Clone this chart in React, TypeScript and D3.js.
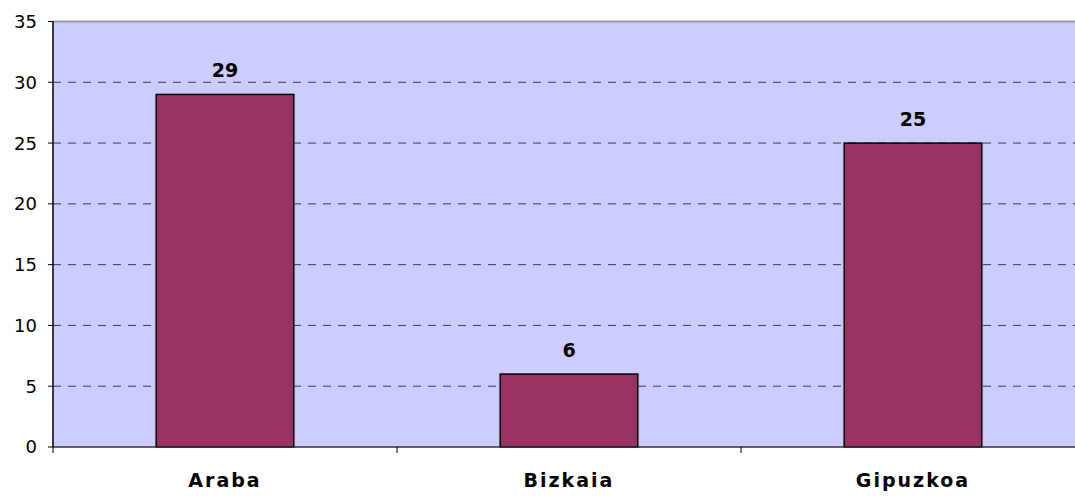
import { scaleBand, scaleLinear, range } from "d3";

const categories = ["Araba", "Bizkaia", "Gipuzkoa"];
const values = [29, 6, 25];
const yTicks = [0, 5, 10, 15, 20, 25, 30, 35];

const width = 1075;
const height = 496;
const margin = { top: 21.5, left: 53, bottom: 49 };
const plotRight = 1085;
const font = "'DejaVu Sans', Verdana, sans-serif";

const App = () => {
  const xScale = scaleBand()
    .domain(categories)
    .range([margin.left, plotRight])
    .paddingInner(0.6)
    .paddingOuter(0.3);
  // category ticks sit at the band edges
  const step = xScale.step();
  const start = margin.left;

  const yScale = scaleLinear().domain([0, 35]).range([height - margin.bottom, margin.top]);
  const y0 = yScale(0);

  return (
    <div style={{ position: "absolute", left: 0, top: 0 }}>
      <svg width={width} height={height} style={{ display: "block" }}>
        <rect x={margin.left} y={yScale(35)} width={plotRight - margin.left} height={y0 - yScale(35)} fill="#ccccff" />
        {yTicks.filter((t) => t > 0 && t < 35).map((t) => (
          <line key={t} x1={margin.left} x2={plotRight} y1={yScale(t)} y2={yScale(t)}
            stroke="#3a3a55" strokeDasharray="8,7" />
        ))}
        <line x1={margin.left} x2={plotRight} y1={yScale(35)} y2={yScale(35)} stroke="#999" strokeWidth={2} />
        {categories.map((c, i) => (
          <g key={c}>
            <rect x={xScale(c)} y={yScale(values[i])} width={xScale.bandwidth()}
              height={y0 - yScale(values[i])} fill="#993366" stroke="#000" strokeWidth={1.5} />
            <text x={(xScale(c) ?? 0) + xScale.bandwidth() / 2} y={yScale(values[i]) - 17}
              textAnchor="middle" fontFamily={font} fontWeight="bold" fontSize={19}>{values[i]}</text>
            <text x={(xScale(c) ?? 0) + xScale.bandwidth() / 2} y={487}
              textAnchor="middle" fontFamily={font} fontWeight="bold" fontSize={19} letterSpacing={2}>{c}</text>
          </g>
        ))}
        <line x1={margin.left} x2={plotRight} y1={y0} y2={y0} stroke="#333" strokeWidth={1.5} />
        {range(categories.length + 1).map((i) => (
          <line key={i} x1={start + i * step} x2={start + i * step} y1={y0} y2={y0 + 6} stroke="#000" />
        ))}
        <line x1={margin.left} x2={margin.left} y1={yScale(35)} y2={y0} stroke="#000" strokeWidth={1.5} />
        {yTicks.map((t) => (
          <g key={t}>
            <line x1={margin.left - 5} x2={margin.left} y1={yScale(t)} y2={yScale(t)} stroke="#000" />
            <text x={37} y={yScale(t)} dy="0.36em" textAnchor="end" fontFamily={font} fontSize={18}>{t}</text>
          </g>
        ))}
      </svg>
    </div>
  );
};

export default App;
